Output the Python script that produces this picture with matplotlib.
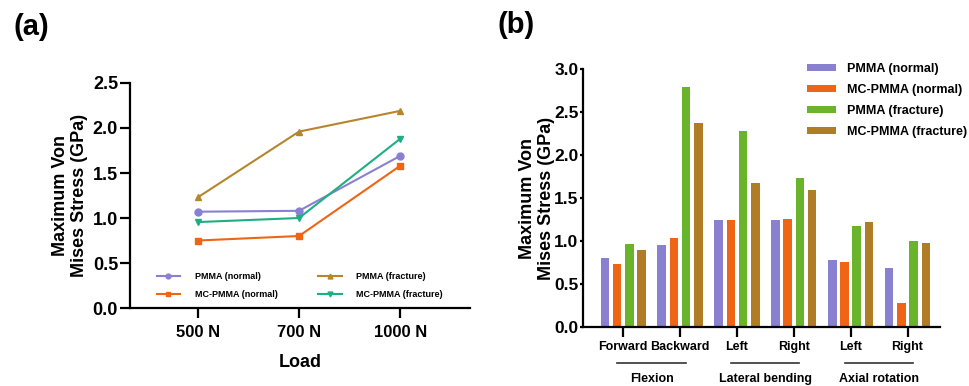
import numpy as np
import matplotlib.pyplot as plt
from matplotlib.lines import Line2D

plt.rcParams["font.family"] = ["Liberation Sans", "DejaVu Sans"]
plt.rcParams["font.weight"] = "bold"
plt.rcParams["axes.labelweight"] = "bold"

# ---- panel (a) data
loads = ["500 N", "700 N", "1000 N"]
pmma_normal = [1.07, 1.08, 1.69]
mc_normal = [0.75, 0.80, 1.58]
pmma_fracture = [1.23, 1.96, 2.19]
mc_fracture = [0.955, 1.00, 1.88]

# ---- panel (b) data
movements = ["Forward", "Backward", "Left", "Right", "Left", "Right"]
groups = ["Flexion", "Lateral bending", "Axial rotation"]
bar_pmma_normal = [0.80, 0.95, 1.24, 1.25, 0.78, 0.69]
bar_mc_normal = [0.73, 1.03, 1.25, 1.26, 0.755, 0.28]
bar_pmma_fracture = [0.96, 2.79, 2.28, 1.73, 1.18, 0.995]
bar_mc_fracture = [0.90, 2.37, 1.68, 1.59, 1.22, 0.98]

series_names = ["PMMA (normal)", "MC-PMMA (normal)", "PMMA (fracture)", "MC-PMMA (fracture)"]

c_purple = "#8a80d2"
c_orange = "#ee6516"
c_gold = "#b5862c"
c_teal = "#1fae83"
c_green = "#6ab42c"
c_brown = "#b07d26"

fig = plt.figure(figsize=(9.69, 3.86), dpi=100)


def style_axes(ax):
    for s in ["top", "right"]:
        ax.spines[s].set_visible(False)
    for s in ["left", "bottom"]:
        ax.spines[s].set_linewidth(1.6)
    ax.tick_params(width=1.6, labelsize=13)


# ---- (a) line chart
ax1 = fig.add_axes([0.134, 0.202, 0.351, 0.583])
x = np.arange(len(loads))
ax1.plot(x, pmma_normal, color=c_purple, marker="o", ms=5, lw=1.5)
ax1.plot(x, mc_normal, color=c_orange, marker="s", ms=5, lw=1.5)
ax1.plot(x, pmma_fracture, color=c_gold, marker="^", ms=5, lw=1.5)
ax1.plot(x, mc_fracture, color=c_teal, marker="v", ms=5, lw=1.5)
ax1.set_xlim(-0.673, 2.69)
ax1.set_ylim(0, 2.5)
yt1 = np.arange(0, 2.51, 0.5)
ax1.set_yticks(yt1)
ax1.set_yticklabels([f"{v:.1f}" for v in yt1])
ax1.set_xticks(x)
ax1.set_xticklabels(loads)
style_axes(ax1)
ax1.tick_params(length=7)
ax1.tick_params(axis="y", pad=1.5)
ax1.tick_params(axis="x", pad=5, labelsize=12)
ax1.set_xlabel("Load", fontsize=13, labelpad=10)
ax1.set_ylabel("Maximum Von\nMises Stress (GPa)", fontsize=13, labelpad=3)

h1 = ax1.get_lines()
ax1.legend([h1[0], h1[1], h1[2], h1[3]], series_names,
           ncol=2, loc="lower left", bbox_to_anchor=(0.055, 0.005),
           frameon=False, fontsize=6.5, handlelength=2.6, columnspacing=4.5,
           handletextpad=1.6, labelspacing=1.0, markerscale=0.7)

# ---- (b) grouped bar chart
ax2 = fig.add_axes([0.602, 0.153, 0.368, 0.668])
xb = np.arange(len(movements))
w = 0.15
off = 0.215
bar_sets = [bar_pmma_normal, bar_mc_normal, bar_pmma_fracture, bar_mc_fracture]
bar_colors = [c_purple, c_orange, c_green, c_brown]
for i, (vals, col, name) in enumerate(zip(bar_sets, bar_colors, series_names)):
    ax2.bar(xb + (i - 1.5) * off, vals, width=w, color=col, label=name)
ax2.set_xlim(-0.70, 5.57)
ax2.set_ylim(0, 3.0)
yt = np.arange(0, 3.01, 0.5)
ax2.set_yticks(yt)
ax2.set_yticklabels([f"{v:.1f}" for v in yt])
ax2.set_xticks(xb)
ax2.set_xticklabels(movements)
style_axes(ax2)
ax2.tick_params(axis="y", length=2.5, pad=1, labelsize=12.5)
ax2.tick_params(axis="x", length=7, labelsize=9, pad=3)
ax2.set_ylabel("Maximum Von\nMises Stress (GPa)", fontsize=13, labelpad=-1)

# group labels under pairs of categories
trans = ax2.get_xaxis_transform()
for g, name in enumerate(groups):
    a, b = 2 * g, 2 * g + 1
    ax2.add_line(Line2D([a - 0.1, b + 0.1], [-0.14, -0.14], transform=trans,
                        color="#333333", lw=1.2, clip_on=False))
    ax2.text((a + b) / 2, -0.2, name, transform=trans, ha="center", va="center",
             fontsize=9, fontweight="bold")

ax2.legend(loc="upper left", bbox_to_anchor=(0.828, 0.85), bbox_transform=fig.transFigure,
           frameon=False, fontsize=9, handlelength=2.3, handleheight=0.45,
           labelspacing=0.72, handletextpad=0.9, borderaxespad=0)

fig.text(0.032, 0.93, "(a)", fontsize=21, fontweight="bold", ha="center", va="center")
fig.text(0.533, 0.935, "(b)", fontsize=21, fontweight="bold", ha="center", va="center")

fig.savefig("out.png", dpi=100)
